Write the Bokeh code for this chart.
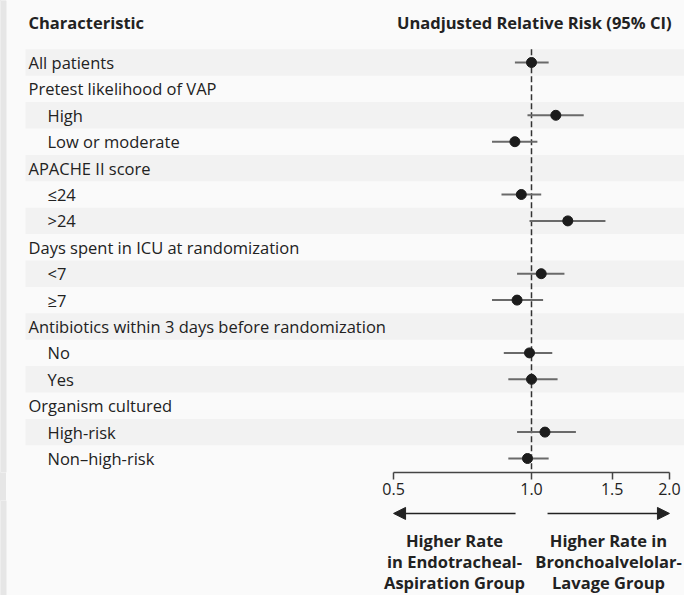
from bokeh.plotting import figure
from bokeh.layouts import column
from bokeh.models import (Range1d, LinearScale, FixedTicker, NumeralTickFormatter,
                          ColumnDataSource, Arrow, NormalHead)
from bokeh.core.properties import value
from bokeh.embed import file_html
from bokeh.resources import INLINE

# ---------------- data ----------------
labels = ["All patients", "Pretest likelihood of VAP", "High", "Low or moderate",
          "APACHE II score", "\u226424", ">24", "Days spent in ICU at randomization",
          "<7", "\u22657", "Antibiotics within 3 days before randomization", "No", "Yes",
          "Organism cultured", "High-risk", "Non\u2013high-risk"]
indent = [0, 0, 1, 1, 0, 1, 1, 0, 1, 1, 0, 1, 1, 0, 1, 1]
rr = [1.00, None, 1.13, 0.92, None, 0.95, 1.20, None, 1.05, 0.93, None, 0.99, 1.00, None, 1.07, 0.98]
lo = [0.92, None, 0.98, 0.82, None, 0.86, 0.99, None, 0.93, 0.82, None, 0.87, 0.89, None, 0.93, 0.89]
hi = [1.09, None, 1.30, 1.03, None, 1.05, 1.45, None, 1.18, 1.06, None, 1.11, 1.14, None, 1.25, 1.09]
tick_values = [0.5, 1.0, 1.5, 2.0]
left_note = ["Higher Rate", "in Endotracheal-", "Aspiration Group"]
right_note = ["Higher Rate in", "Bronchoalvelolar-", "Lavage Group"]
header_left = "Characteristic"
header_right = "Unadjusted Relative Risk (95% CI)"

FONT = "Open Sans"
TXT = "#222222"
BG = "#fafafa"
BAND = "#f2f2f2"
STRIP = "#e6e6e6"

W = 684
X_RANGE = (0.06937, 2.1572)
TOP_H = 500
BOT_H = 95

# ---------------- top figure ----------------
p = figure(width=W, height=TOP_H, x_axis_type="log",
           x_range=Range1d(*X_RANGE), y_range=Range1d(15.53, -2.348),
           output_backend="svg", toolbar_location=None,
           min_border_left=0, min_border_right=0, min_border_top=0, min_border_bottom=28,
           y_axis_location=None)
p.extra_x_ranges = {"px": Range1d(0, W)}
p.extra_x_scales = {"px": LinearScale()}
p.background_fill_color = BG
p.border_fill_color = None
p.outline_line_color = None
p.grid.visible = False

n = len(labels)
rows = list(range(n))

# left strip
p.quad(left=[0], right=[6], top=[-2.348], bottom=[15.53], fill_color=STRIP,
       line_color=None, x_range_name="px")

# alternating row bands
band_rows = [i for i in rows if i % 2 == 0]
p.quad(left=25, right=W, top=[i - 0.5 for i in band_rows], bottom=[i + 0.5 for i in band_rows],
       fill_color=BAND, line_color=None, x_range_name="px")

# reference line at 1.0
p.segment(x0=[1.0], y0=[-0.5], x1=[1.0], y1=[15.53], line_color="#333333",
          line_width=1.5, line_dash="6 3")

# labels
lab_src = ColumnDataSource(dict(x=[28 + 19 * k for k in indent], y=rows, t=labels))
p.text(x="x", y="y", text="t", source=lab_src, x_range_name="px",
       text_font=value(FONT), text_font_size="16.5px", text_color=TXT,
       text_baseline="middle", text_align="left")

# headers
p.text(x=[28], y=[-1.52], text=[header_left], x_range_name="px",
       text_font=value(FONT), text_font_size="16.5px", text_font_style="bold",
       text_color=TXT, text_baseline="middle", text_align="left")
p.text(x=[671], y=[-1.52], text=[header_right], x_range_name="px",
       text_font=value(FONT), text_font_size="16.5px", text_font_style="bold",
       text_color=TXT, text_baseline="middle", text_align="right")

# estimates
est_rows = [i for i in rows if rr[i] is not None]
est = ColumnDataSource(dict(y=est_rows, rr=[rr[i] for i in est_rows],
                            lo=[lo[i] for i in est_rows], hi=[hi[i] for i in est_rows]))
p.segment(x0="lo", y0="y", x1="hi", y1="y", source=est, line_color="#6a6a6a", line_width=2)
p.scatter(x="rr", y="y", source=est, size=10, fill_color="#1c1c1c", line_color="#1c1c1c")

# x axis
ax = p.xaxis[0]
ax.ticker = FixedTicker(ticks=tick_values, minor_ticks=[])
ax.formatter = NumeralTickFormatter(format="0.0")
ax.bounds = (tick_values[0], tick_values[-1])
ax.axis_line_color = "#444444"
ax.axis_line_width = 1.5
ax.major_tick_line_color = "#444444"
ax.major_tick_line_width = 1.5
ax.major_tick_in = 0
ax.major_tick_out = 7
ax.minor_tick_line_color = None
ax.major_label_standoff = 3
ax.major_label_text_font = FONT
ax.major_label_text_font_size = "16px"
ax.major_label_text_color = TXT

# ---------------- bottom figure ----------------
b = figure(width=W, height=BOT_H, x_axis_type="log",
           x_range=p.x_range, y_range=Range1d(20.189, 16.59),
           output_backend="svg", toolbar_location=None,
           min_border_left=0, min_border_right=0, min_border_top=0, min_border_bottom=0,
           x_axis_location=None, y_axis_location=None)
b.extra_x_ranges = {"px": Range1d(0, W)}
b.extra_x_scales = {"px": LinearScale()}
b.background_fill_color = BG
b.border_fill_color = None
b.outline_line_color = None
b.grid.visible = False

b.quad(left=[0], right=[6], top=[16.59], bottom=[20.189], fill_color=STRIP,
       line_color=None, x_range_name="px")

b.add_layout(Arrow(x_start=0.923, y_start=17.08, x_end=tick_values[0], y_end=17.08,
                   line_color="#222222", line_width=1.5,
                   end=NormalHead(size=12, fill_color="#222222", line_color="#222222")))
b.add_layout(Arrow(x_start=1.084, y_start=17.08, x_end=tick_values[-1], y_end=17.08,
                   line_color="#222222", line_width=1.5,
                   end=NormalHead(size=12, fill_color="#222222", line_color="#222222")))

note_y = [18.1, 18.9, 19.7]
b.text(x=[454] * 3, y=note_y, text=left_note, x_range_name="px",
       text_font=value(FONT), text_font_size="16.5px", text_font_style="bold",
       text_color=TXT, text_baseline="middle", text_align="center")
b.text(x=[608] * 3, y=note_y, text=right_note, x_range_name="px",
       text_font=value(FONT), text_font_size="16.5px", text_font_style="bold",
       text_color=TXT, text_baseline="middle", text_align="center")

layout = column(p, b, spacing=0,
                styles={"background": "linear-gradient(to right, #e6e6e6 6px, #fafafa 6px)"})
open("out.html", "w").write(file_html(layout, INLINE))
